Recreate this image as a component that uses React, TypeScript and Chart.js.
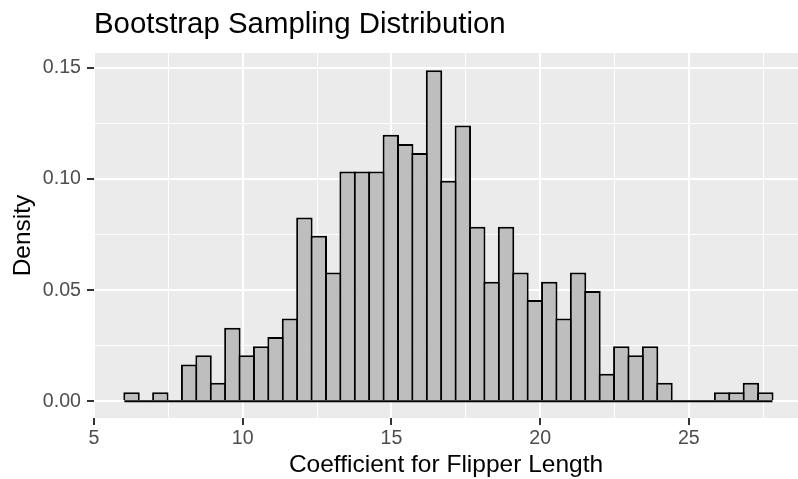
import React, { useEffect, useRef } from "react";
import { Chart, registerables } from "chart.js";

Chart.register(...registerables);

const TITLE = "Bootstrap Sampling Distribution";
const X_TITLE = "Coefficient for Flipper Length";
const Y_TITLE = "Density";

// Histogram bins (left edge of first bin and bin width)
const BIN_START = 6.02;
const BIN_WIDTH = 0.4843;

// Density of each bin
const density = [
  0.0041, 0, 0.0041, 0, 0.0165, 0.0207, 0.0083, 0.0331, 0.0207, 0.0248, 0.0289, 0.0372,
  0.0826, 0.0744, 0.0579,
  0.1033, 0.1033, 0.1033,
  0.1198, 0.1157, 0.1116,
  0.1488, 0.0992, 0.124,
  0.0785, 0.0537, 0.0785, 0.0579,
  0.0455, 0.0537, 0.0372, 0.0579,
  0.0496, 0.0124, 0.0248, 0.0207, 0.0248, 0.0083,
  0, 0, 0, 0.0041, 0.0041, 0.0083, 0.0041,
];

const xMajorTicks = [5, 10, 15, 20, 25];
const xMinorTicks = [7.5, 12.5, 17.5, 22.5, 27.5];
const yMajorTicks = [0, 0.05, 0.1, 0.15];
const yMinorTicks = [0.025, 0.075, 0.125];

const X_MIN = 5;
const X_MAX = 28.67;
const Y_MIN = -0.0075;
const Y_MAX = 0.1566;

const FONT = "'Liberation Sans', Arial, Helvetica, sans-serif";

const near = (list: number[], v: number) => list.some((m) => Math.abs(m - v) < 1e-9);

const panelBg = {
  id: "panelBg",
  beforeDraw(chart: any) {
    const { ctx, chartArea } = chart;
    if (!chartArea) return;
    ctx.save();
    ctx.fillStyle = "#EBEBEB";
    ctx.fillRect(chartArea.left, chartArea.top, chartArea.right - chartArea.left, chartArea.bottom - chartArea.top);
    ctx.restore();
  },
};

export default function App() {
  const ref = useRef<HTMLCanvasElement | null>(null);

  useEffect(() => {
    if (!ref.current) return;
    const binEdgesLast = BIN_START + density.length * BIN_WIDTH;
    const barData = density.map((d, i) => ({ x: BIN_START + (i + 0.5) * BIN_WIDTH, y: d }));

    const chart = new Chart(ref.current, {
      type: "bar",
      data: {
        datasets: [
          {
            type: "line",
            data: [
              { x: BIN_START, y: 0 },
              { x: binEdgesLast, y: 0 },
            ],
            borderColor: "#000000",
            borderWidth: 2,
            pointRadius: 0,
            order: 0,
          } as any,
          {
            type: "bar",
            data: barData,
            backgroundColor: "#BEBEBE",
            borderColor: "#000000",
            borderWidth: 2,
            borderSkipped: "start",
            barPercentage: 1.14,
            categoryPercentage: 1,
            order: 1,
          } as any,
        ],
      },
      options: {
        responsive: false,
        animation: false,
        devicePixelRatio: 1,
        layout: { padding: 0 },
        plugins: {
          legend: { display: false },
          tooltip: { enabled: false },
          title: {
            display: true,
            text: TITLE,
            align: "start",
            fullSize: false,
            color: "#000000",
            font: { family: FONT, size: 29.4, weight: "normal", lineHeight: 1.2 },
            padding: { top: 7.5, bottom: 10.2 },
          },
        },
        scales: {
          x: {
            type: "linear",
            offset: false,
            min: X_MIN,
            max: X_MAX,
            afterBuildTicks: (s: any) => {
              s.ticks = [...xMajorTicks, ...xMinorTicks].sort((a, b) => a - b).map((v) => ({ value: v }));
            },
            afterFit: (s: any) => {
              s.height = 61;
            },
            ticks: {
              autoSkip: false,
              maxRotation: 0,
              minRotation: 0,
              color: "#4D4D4D",
              padding: 2,
              font: { family: FONT, size: 19.6 },
              callback: (v: any) => (near(xMajorTicks, Number(v)) ? String(v) : ""),
            },
            grid: {
              offset: false,
              color: "#FFFFFF",
              lineWidth: (c: any) => (c.tick && near(xMajorTicks, c.tick.value) ? 2 : 1),
              tickColor: (c: any) => (c.tick && near(xMajorTicks, c.tick.value) ? "#333333" : "rgba(0,0,0,0)"),
              tickWidth: 2,
              tickLength: 7,
              drawTicks: true,
            },
            border: { display: false },
            title: {
              display: true,
              text: X_TITLE,
              color: "#000000",
              font: { family: FONT, size: 24.5, lineHeight: 1 },
              padding: { top: 0, bottom: 1.5 },
            },
          },
          y: {
            type: "linear",
            min: Y_MIN,
            max: Y_MAX,
            afterBuildTicks: (s: any) => {
              s.ticks = [...yMajorTicks, ...yMinorTicks].sort((a, b) => a - b).map((v) => ({ value: v }));
            },
            afterFit: (s: any) => {
              s.width = 94;
            },
            ticks: {
              autoSkip: false,
              color: "#4D4D4D",
              padding: 6,
              font: { family: FONT, size: 19.6 },
              callback: (v: any) => (near(yMajorTicks, Number(v)) ? Number(v).toFixed(2) : ""),
            },
            grid: {
              color: "#FFFFFF",
              lineWidth: (c: any) => (c.tick && near(yMajorTicks, c.tick.value) ? 2 : 1),
              tickColor: (c: any) => (c.tick && near(yMajorTicks, c.tick.value) ? "#333333" : "rgba(0,0,0,0)"),
              tickWidth: 2,
              tickLength: 7,
              drawTicks: true,
            },
            border: { display: false },
            title: {
              display: true,
              text: Y_TITLE,
              color: "#000000",
              font: { family: FONT, size: 24.5, lineHeight: 1 },
              padding: { top: 10.5, bottom: 0 },
            },
          },
        },
      },
      plugins: [panelBg],
    });

    return () => chart.destroy();
  }, []);

  return (
    <div style={{ position: "absolute", left: 0, top: 0, width: 798, height: 479, background: "#FFFFFF" }}>
      <canvas ref={ref} width={798} height={479} style={{ display: "block", width: 798, height: 479 }} />
    </div>
  );
}
